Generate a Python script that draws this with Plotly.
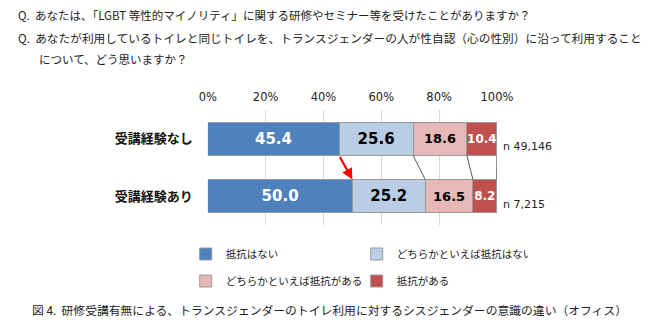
import plotly.graph_objects as go

categories = ["受講経験なし", "受講経験あり"]
series_names = ["抵抗はない", "どちらかといえば抵抗はない", "どちらかといえば抵抗がある", "抵抗がある"]
v_none = [45.4, 50.0]
v_rather_none = [25.6, 25.2]
v_rather_some = [18.6, 16.5]
v_some = [10.4, 8.2]
n_labels = ["n 49,146", "n 7,215"]
x_ticks = [0, 20, 40, 60, 80, 100]
x_tick_labels = ["0%", "20%", "40%", "60%", "80%", "100%"]

series_values = [v_none, v_rather_none, v_rather_some, v_some]
colors = ["#4F81BD", "#B9CDE5", "#E6B9B8", "#C0504D"]
text_colors = ["white", "black", "black", "white"]
text_sizes = [15, 15, 13, 12]
legend_ids = ["legend", "legend", "legend2", "legend2"]

W, H = 658, 329
x0px, x1px = 207, 508
y0px, y1px = 110, 225

fig = go.Figure()
for name, vals, col, tc, ts, lg in zip(series_names, series_values, colors, text_colors, text_sizes, legend_ids):
    fig.add_trace(go.Bar(
        y=categories, x=vals, name=name, orientation="h",
        marker=dict(color=col, line=dict(color="#9A9A9A", width=1)),
        text=[f"{v:.1f}" for v in vals], textposition="inside",
        insidetextanchor="middle", textangle=0, constraintext="none",
        textfont=dict(family="DejaVu Sans", size=ts, color=tc, weight="bold"),
        legend=lg, hoverinfo="skip",
    ))

bar_w = 1 - 0.42
half = bar_w / 2

# connector lines between the bars (series lines)
shapes = []
cum_top = 0.0
cum_bot = 0.0
for i, vals in enumerate(series_values):
    cum_top += vals[0]
    cum_bot += vals[1]
    if i == 0:
        continue
    shapes.append(dict(type="line", xref="x", yref="y",
                       x0=cum_top, y0=0 + half, x1=cum_bot, y1=1 - half,
                       line=dict(color="#595959", width=1), layer="above"))

annotations = []
# red arrow at first boundary
annotations.append(dict(x=v_none[1], y=1 - half, ax=v_none[0], ay=0 + half,
                        xref="x", yref="y", axref="x", ayref="y",
                        showarrow=True, arrowhead=2, arrowsize=1, arrowwidth=2.2,
                        arrowcolor="#FF0000", text=""))
# n labels
for i, t in enumerate(n_labels):
    annotations.append(dict(x=100, y=i, xref="x", yref="y", text=t, showarrow=False,
                            xanchor="left", yanchor="middle", xshift=4, yshift=-8,
                            font=dict(family="DejaVu Sans", size=11, color="#222222")))

lines = [
    (7, 15, 11.5, "Q.  あなたは、「LGBT 等性的マイノリティ」に関する研修やセミナー等を受けたことがありますか？"),
    (7, 38, 11.7, "Q.  あなたが利用しているトイレと同じトイレを、トランスジェンダーの人が性自認（心の性別）に沿って利用すること"),
    (29, 59, 11.5, "について、どう思いますか？"),
    (22, 309, 11.8, "図 4.  研修受講有無による、トランスジェンダーのトイレ利用に対するシスジェンダーの意識の違い（オフィス）"),
]
for x, y, fs, t in lines:
    annotations.append(dict(x=x / W, y=1 - y / H, xref="paper", yref="paper", text=t,
                            showarrow=False, xanchor="left", yanchor="middle",
                            font=dict(family="Noto Sans CJK JP", size=fs, color="#222222")))

legend_common = dict(orientation="h", xanchor="left", yanchor="middle",
                     traceorder="normal", entrywidth=126,
                     font=dict(family="Noto Sans CJK JP", size=10.5, color="#222222"),
                     itemclick=False, itemdoubleclick=False, bgcolor="rgba(0,0,0,0)")

fig.update_layout(
    width=W, height=H,
    margin=dict(l=0, r=0, t=0, b=0),
    paper_bgcolor="white", plot_bgcolor="white",
    barmode="stack", bargap=0.42,
    showlegend=True,
    xaxis=dict(domain=[x0px / W, x1px / W], range=[0, 100], side="top",
               tickvals=x_ticks, ticktext=x_tick_labels,
               showgrid=True, gridcolor="#D9D9D9", gridwidth=1,
               zeroline=False, showline=False, ticks="",
               tickfont=dict(family="DejaVu Sans", size=11.5, color="#222222"),
               ticklabelstandoff=6, fixedrange=True),
    yaxis=dict(domain=[1 - y1px / H, 1 - y0px / H], autorange="reversed",
               categoryorder="array", categoryarray=categories,
               showgrid=False, zeroline=False, showline=False, ticks="",
               tickfont=dict(family="Noto Sans CJK JP", size=13, color="#111111", weight="bold"),
               ticklabelstandoff=14, fixedrange=True),
    legend=dict(x=0.2796, y=1 - 254 / H, **legend_common),
    legend2=dict(x=0.2796, y=1 - 281 / H, **legend_common),
    shapes=shapes,
    annotations=annotations,
)

fig.write_html("out.html", config={"displayModeBar": False})
